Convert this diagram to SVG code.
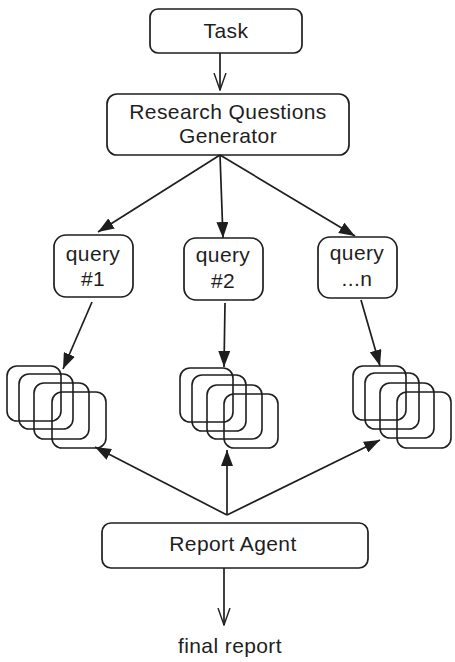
<svg xmlns="http://www.w3.org/2000/svg" width="455" height="662" viewBox="0 0 455 662">
<defs>
<marker id="tri" viewBox="0 0 16 12" refX="16" refY="6" markerWidth="16" markerHeight="12" markerUnits="userSpaceOnUse" orient="auto">
<path d="M0,0 L16,6 L0,12 Z" fill="#1e1e1e"/>
</marker>
<marker id="vee" viewBox="0 0 18 14" refX="17" refY="7" markerWidth="18" markerHeight="14" markerUnits="userSpaceOnUse" orient="auto">
<path d="M0,1 L17,7 L0,13" fill="none" stroke="#1e1e1e" stroke-width="1.4"/>
</marker>
</defs>
<style>
.box{fill:none;stroke:#1e1e1e;stroke-width:1.7}
.card{fill:none;stroke:#1e1e1e;stroke-width:1.6}
.t{font-family:"Liberation Sans",Arial,sans-serif;font-size:21px;letter-spacing:0.4px;fill:#1e1e1e;text-anchor:middle}
.c{fill:none;stroke:#1e1e1e;stroke-width:1.7}
</style>
<rect width="455" height="662" fill="#ffffff"/>
<g id="task"><rect class="box" x="150" y="9" width="152" height="44" rx="8"/><text class="t" x="226" y="38">Task</text></g>
<g id="rqg"><rect class="box" x="107" y="94" width="242" height="61" rx="10"/><text class="t" x="228" y="119">Research Questions</text><text class="t" x="228" y="143">Generator</text></g>
<g id="q1"><rect class="box" x="54" y="235" width="79" height="62" rx="12"/><text class="t" x="93" y="261">query</text><text class="t" x="93" y="286">#1</text></g>
<g id="q2"><rect class="box" x="184" y="238" width="79" height="62" rx="12"/><text class="t" x="223" y="262">query</text><text class="t" x="223" y="288">#2</text></g>
<g id="qn"><rect class="box" x="318" y="237" width="79" height="61" rx="12"/><text class="t" x="357" y="260">query</text><text class="t" x="357" y="286">...n</text></g>
<g id="docs1">
<rect class="card" x="7" y="366" width="54" height="55" rx="10"/>
<rect class="card" x="19" y="374" width="54" height="55" rx="10"/>
<rect class="card" x="34" y="383" width="55" height="56" rx="10"/>
<rect class="card" x="52" y="392" width="54" height="56" rx="10"/>
</g>
<g id="docs2">
<rect class="card" x="180" y="368" width="53" height="54" rx="10"/>
<rect class="card" x="192" y="375" width="54" height="56" rx="10"/>
<rect class="card" x="207" y="385" width="55" height="54" rx="10"/>
<rect class="card" x="224" y="394" width="54" height="54" rx="10"/>
</g>
<g id="docs3">
<rect class="card" x="353" y="366" width="53" height="54" rx="10"/>
<rect class="card" x="365" y="373" width="54" height="56" rx="10"/>
<rect class="card" x="380" y="383" width="54" height="55" rx="10"/>
<rect class="card" x="397" y="392" width="54" height="56" rx="10"/>
</g>
<g id="report"><rect class="box" x="102" y="523" width="266" height="45" rx="9"/><text class="t" x="233" y="551">Report Agent</text></g>
<g id="final"><text class="t" x="230" y="653">final report</text></g>
<g id="connectors">
<line class="c" x1="220" y1="53" x2="220" y2="90" marker-end="url(#vee)"/>
<line class="c" x1="220" y1="155" x2="98" y2="232" marker-end="url(#tri)"/>
<line class="c" x1="220" y1="155" x2="223" y2="238" marker-end="url(#tri)"/>
<line class="c" x1="220" y1="155" x2="355" y2="236" marker-end="url(#tri)"/>
<line class="c" x1="92" y1="302" x2="63" y2="369" marker-end="url(#tri)"/>
<line class="c" x1="225" y1="303" x2="224" y2="367" marker-end="url(#tri)"/>
<line class="c" x1="361" y1="300" x2="380" y2="366" marker-end="url(#tri)"/>
<line class="c" x1="227" y1="515" x2="95" y2="447" marker-end="url(#tri)"/>
<line class="c" x1="227" y1="515" x2="227" y2="450" marker-end="url(#tri)"/>
<line class="c" x1="227" y1="515" x2="380" y2="440" marker-end="url(#tri)"/>
<line class="c" x1="224" y1="568" x2="224" y2="625" marker-end="url(#vee)"/>
</g>
</svg>
